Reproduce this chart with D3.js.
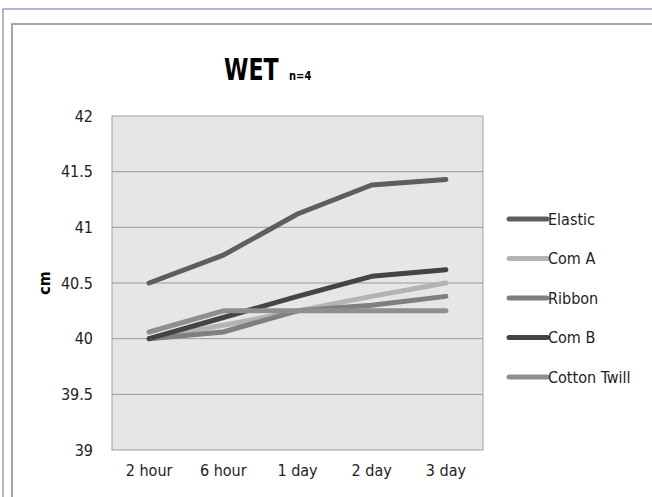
<!DOCTYPE html>
<html>
<head>
<meta charset="utf-8">
<script src="https://cdn.jsdelivr.net/npm/d3@7"></script>
<style>
  body { margin: 0; background: #fff; }
  text { font-family: "Liberation Sans Narrow", "DejaVu Sans Condensed", sans-serif; }
</style>
</head>
<body>
<script>
// Données
const categories = ["2 hour", "6 hour", "1 day", "2 day", "3 day"];
const seriesNames = ["Elastic", "Com A", "Ribbon", "Com B", "Cotton Twill"];
const elastic = [40.5, 40.75, 41.12, 41.38, 41.43];
const comA = [40.0, 40.12, 40.25, 40.38, 40.5];
const ribbon = [40.0, 40.06, 40.25, 40.3, 40.38];
const comB = [40.0, 40.19, 40.38, 40.56, 40.62];
const cottonTwill = [40.06, 40.25, 40.25, 40.25, 40.25];
const yTicks = [39, 39.5, 40, 40.5, 41, 41.5, 42];

const colors = ["#5e5e5e", "#b3b3b3", "#7f7f7f", "#444444", "#8f8f8f"];
const series = [elastic, comA, ribbon, comB, cottonTwill].map((v, i) => ({ name: seriesNames[i], values: v, color: colors[i] }));

const width = 652, height = 497;
const plot = { left: 112, top: 116, right: 483, bottom: 450 };

const svg = d3.select('body').append('svg')
  .attr('width', width)
  .attr('height', height);

// cadres
svg.append('rect').attr('x', 3).attr('y', 9).attr('width', 660).attr('height', 500)
  .attr('fill', 'none').attr('stroke', '#7a68a8').attr('stroke-width', 1);
svg.append('rect').attr('x', 12).attr('y', 24).attr('width', 660).attr('height', 500)
  .attr('fill', '#fff').attr('stroke', '#888').attr('stroke-width', 1.5);

const x = d3.scaleBand().domain(categories).range([plot.left, plot.right]);
const y = d3.scaleLinear().domain([39, 42]).range([plot.bottom, plot.top]);

// fond du graphique
svg.append('rect')
  .attr('x', plot.left).attr('y', plot.top)
  .attr('width', plot.right - plot.left).attr('height', plot.bottom - plot.top)
  .attr('fill', '#e6e6e6').attr('stroke', '#a0a0a0');

// grille
svg.append('g').selectAll('line').data(yTicks.slice(1, -1)).enter().append('line')
  .attr('x1', plot.left).attr('x2', plot.right)
  .attr('y1', d => y(d)).attr('y2', d => y(d))
  .attr('stroke', '#999').attr('stroke-width', 1);

// axe vertical
svg.append('g')
  .attr('transform', `translate(${plot.left - 16}, 0)`)
  .call(d3.axisLeft(y).tickValues(yTicks).tickSize(0).tickFormat(d => d))
  .call(g => g.select('.domain').remove())
  .selectAll('text').attr('font-size', 16).attr('fill', '#222');

// axe horizontal
svg.append('g')
  .attr('transform', `translate(0, ${plot.bottom + 12})`)
  .call(d3.axisBottom(x).tickSize(0))
  .call(g => g.select('.domain').remove())
  .selectAll('text').attr('font-size', 16).attr('fill', '#222');

// titre de l'axe
svg.append('text')
  .attr('transform', `translate(50, ${y(40.5)}) rotate(-90)`)
  .attr('text-anchor', 'middle')
  .attr('font-size', 16).attr('font-weight', 'bold')
  .text('cm');

// titre (police étroite simulée)
svg.append('text').attr('transform', 'translate(224, 80) scale(0.82, 1)')
  .attr('font-size', 30).attr('font-weight', 'bold').text('WET');
svg.append('text').attr('transform', 'translate(289, 80) scale(0.85, 1)')
  .attr('font-size', 13).attr('font-weight', 'bold').text('n=4');

// courbes
const line = d3.line()
  .x((d, i) => x(categories[i]) + x.bandwidth() / 2)
  .y(d => y(d));

svg.append('g').selectAll('path').data(series).enter().append('path')
  .attr('d', d => line(d.values))
  .attr('fill', 'none')
  .attr('stroke', d => d.color)
  .attr('stroke-width', 5)
  .attr('stroke-linecap', 'round')
  .attr('stroke-linejoin', 'round');

// légende
const legend = svg.append('g').selectAll('g').data(series).enter().append('g')
  .attr('transform', (d, i) => `translate(509, ${219 + i * 39.5})`);
legend.append('line')
  .attr('x1', 0).attr('x2', 38)
  .attr('stroke', d => d.color).attr('stroke-width', 5).attr('stroke-linecap', 'round');
legend.append('text')
  .attr('x', 39).attr('dy', '0.35em')
  .attr('font-size', 16).attr('fill', '#222')
  .text(d => d.name);
</script>
</body>
</html>
